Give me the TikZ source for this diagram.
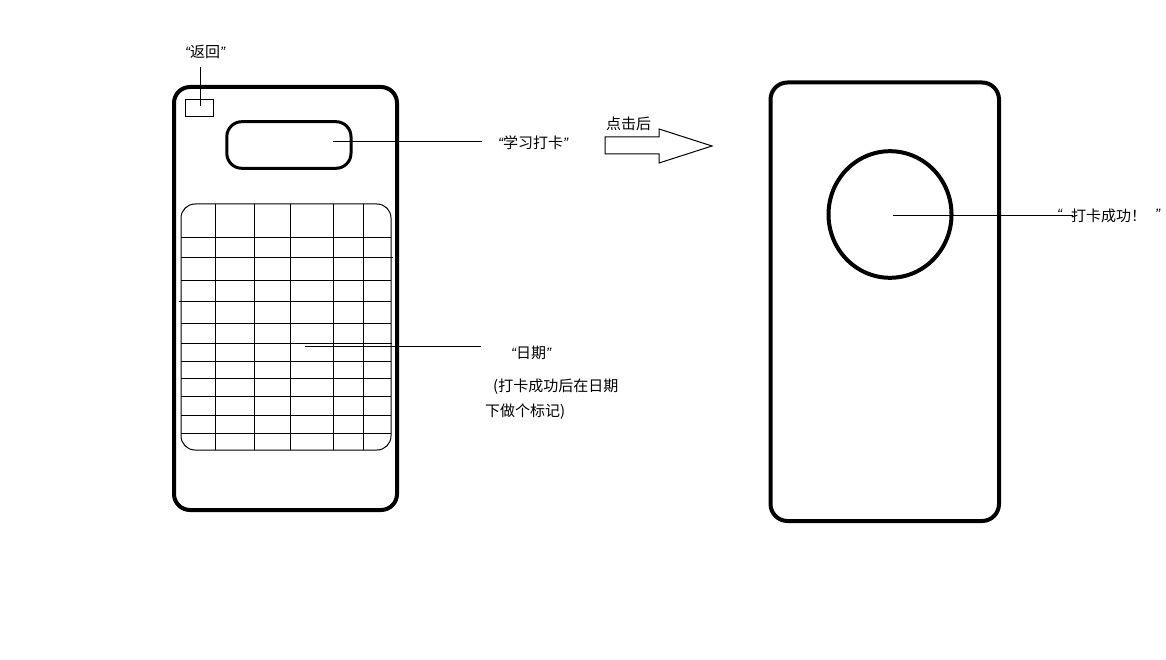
\documentclass[tikz,border=0pt]{standalone}
\usepackage{fontspec}
\setmainfont{Noto Sans CJK SC}
\newfontfamily\qfont{Liberation Sans}
\newcommand{\myoq}{{\qfont\itshape “}}
\newcommand{\mycq}{{\qfont\itshape ”}}
\begin{document}
\begin{tikzpicture}[x=1pt,y=-1pt,
  phone/.style={draw=black,line width=4pt,rounded corners=16pt},
  thin/.style={draw=black,line width=1pt},
  leader/.style={draw=black,line width=1pt},
  lbl/.style={inner sep=0pt,font=\fontsize{15}{18}\selectfont,text=black}]
\useasboundingbox (0,0) rectangle (1166,660);
\fill[white] (0,0) rectangle (1166,660);

% left phone
\draw[phone] (174,87) rectangle (397,510);
\draw[thin] (185,100) rectangle (213,117);
\draw[draw=black,line width=3pt,rounded corners=15pt] (226.8,121.7) rectangle (351,168.3);
% calendar grid
\draw[thin,rounded corners=14pt] (181,204) rectangle (391,450);
\begin{scope}[line width=1pt]
\foreach \x in {215,254,290,333,363} \draw (\x,204) -- (\x,450);
\foreach \y in {238,280,323,361,378,396,415,433} \draw (181,\y) -- (391,\y);
\draw (181,257) -- (393,257);
\draw (179,301) -- (391,301);
\draw (181,343) -- (392,343);
\end{scope}

% labels left
\node[lbl,anchor=west] (back) at (185,52) {\myoq 返回\mycq};
\coordinate (backA) at (200,67);
\coordinate (backB) at (200,106);
\draw[leader] (backA) -- (backB);

\node[lbl,anchor=west] (study) at (498,143) {\myoq 学习打卡\mycq};
\coordinate (btnA) at (333,142);
\coordinate (btnB) at (482,142);
\draw[leader] (btnA) -- (btnB);

\node[lbl,anchor=west] (date) at (511,353) {\myoq 日期\mycq};
\coordinate (dateA) at (305,346);
\coordinate (dateB) at (481,346);
\draw[leader] (dateA) -- (dateB);

\node[lbl,anchor=west] (note1) at (493,387) {(打卡成功后在日期};
\node[lbl,anchor=west] (note2) at (485,412) {下做个标记)};

% block arrow
\node[lbl,anchor=west] (after) at (606,124) {点击后};
\draw[thin] (605,137) -- (659,137) -- (659,129) -- (712,146) -- (659,163) -- (659,154) -- (605,154) -- cycle;

% right phone
\draw[phone,rounded corners=17pt] (770.5,82.5) rectangle (999,521);
\draw[line width=4pt] (890,214.5) ellipse [x radius=61.5,y radius=63.3];
\coordinate (cirA) at (893,216);
\coordinate (cirB) at (1073,216);
\draw[leader] (cirA) -- (cirB);
\node[lbl,anchor=west] (qL) at (1057,214) {\myoq};
\node[lbl,anchor=west] (ok) at (1071,216) {打卡成功！};
\node[lbl,anchor=west] (qR) at (1155,214) {\mycq};
\end{tikzpicture}
\end{document}
